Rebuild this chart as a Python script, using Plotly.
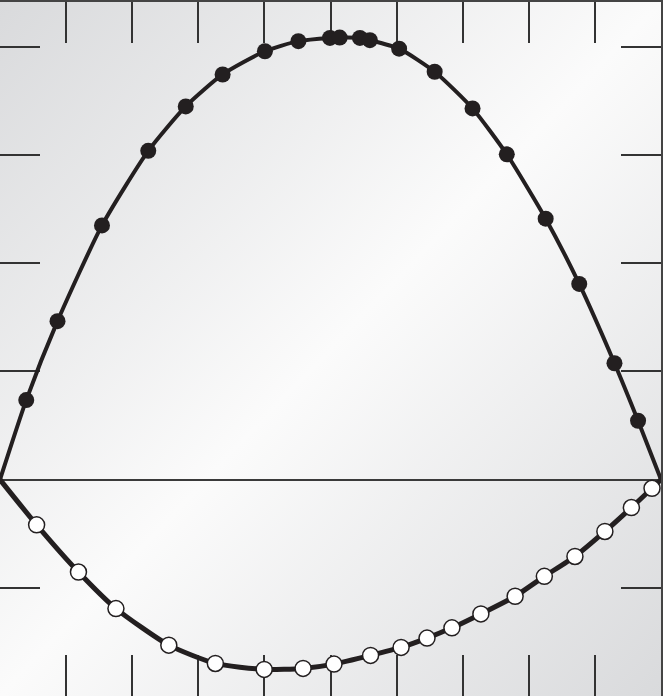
import base64

import plotly.graph_objects as go

# Upper series (filled markers)
upper_x = [0.397, 0.870, 1.543, 2.243, 2.810, 3.368, 4.008, 4.514, 4.992, 5.139,
           5.445, 5.596, 6.038, 6.576, 7.149, 7.667, 8.255, 8.763, 9.296, 9.653]
upper_y = [0.735, 1.465, 2.350, 3.039, 3.450, 3.745, 3.960, 4.053, 4.083, 4.086,
           4.083, 4.062, 3.984, 3.770, 3.431, 3.007, 2.412, 1.809, 1.076, 0.544]

# Lower series (open markers)
lower_x = [0.554, 1.187, 1.754, 2.554, 3.258, 3.997, 4.585, 5.053, 5.606, 6.068,
           6.460, 6.837, 7.275, 7.793, 8.235, 8.698, 9.151, 9.552, 9.864]
lower_y = [-0.418, -0.854, -1.192, -1.530, -1.699, -1.754, -1.745, -1.705, -1.625, -1.551,
           -1.465, -1.370, -1.241, -1.078, -0.894, -0.710, -0.479, -0.258, -0.080]

# curve end points on the zero line
start_point = (0, 0)
end_point = (10, 0)

x_ticks = [1, 2, 3, 4, 5, 6, 7, 8, 9]
y_ticks = [-1, 1, 2, 3, 4]

ink = '#231f20'

# diagonal grey gradient for the background
svg = ('<svg xmlns="http://www.w3.org/2000/svg" width="663" height="696" preserveAspectRatio="none">'
       '<defs><linearGradient id="g" x1="0" y1="0" x2="1" y2="1">'
       '<stop offset="0" stop-color="#d9dadc"/>'
       '<stop offset="0.5" stop-color="#fbfbfb"/>'
       '<stop offset="1" stop-color="#d9dadc"/>'
       '</linearGradient></defs>'
       '<rect width="663" height="696" fill="url(#g)"/></svg>')
bg_src = 'data:image/svg+xml;base64,' + base64.b64encode(svg.encode()).decode()

fig = go.Figure()

# lower curve
fig.add_trace(go.Scatter(
    x=[start_point[0]] + lower_x + [end_point[0]],
    y=[start_point[1]] + lower_y + [end_point[1]],
    mode='lines',
    line=dict(color=ink, width=5, shape='spline', smoothing=0.6),
    hoverinfo='skip'
))
fig.add_trace(go.Scatter(
    x=lower_x, y=lower_y, mode='markers',
    marker=dict(size=16, color='white', line=dict(color=ink, width=1.5))
))

# upper curve
fig.add_trace(go.Scatter(
    x=[start_point[0]] + upper_x + [end_point[0]],
    y=[start_point[1]] + upper_y + [end_point[1]],
    mode='lines',
    line=dict(color=ink, width=4, shape='spline', smoothing=0.6),
    hoverinfo='skip'
))
fig.add_trace(go.Scatter(
    x=upper_x, y=upper_y, mode='markers',
    marker=dict(size=16, color=ink)
))

fig.update_layout(
    width=663, height=696,
    margin=dict(l=0, r=0, t=0, b=0),
    showlegend=False,
    paper_bgcolor='white',
    plot_bgcolor='rgba(0,0,0,0)',
    images=[dict(source=bg_src, xref='paper', yref='paper', x=0, y=1,
                 sizex=1, sizey=1, sizing='stretch', layer='below',
                 xanchor='left', yanchor='top')]
)

fig.update_xaxes(
    range=[0, 10], tickvals=x_ticks, showticklabels=False,
    ticks='inside', ticklen=41, tickwidth=1.5, tickcolor='#333333',
    showline=True, linecolor='#444444', linewidth=2, mirror='ticks',
    showgrid=False, zeroline=False, layer='below traces'
)
fig.update_yaxes(
    range=[-2, 4.415], tickvals=y_ticks, showticklabels=False,
    ticks='inside', ticklen=40, tickwidth=1.5, tickcolor='#333333',
    showline=True, linecolor='#444444', linewidth=2, mirror='ticks',
    showgrid=False, zeroline=True, zerolinecolor='#3a3a3a', zerolinewidth=1.5,
    layer='below traces'
)

# drop the page's default body margin so the chart sits flush in the window
fig.write_html("out.html", config={'displayModeBar': False},
               post_script="document.body.style.margin='0';")
